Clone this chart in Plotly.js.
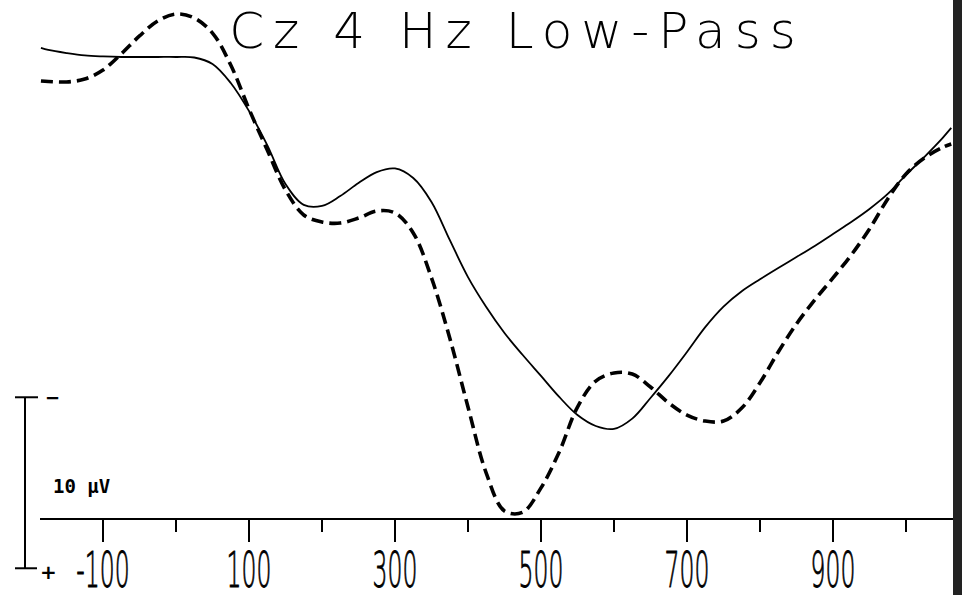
<!DOCTYPE html>
<html>
<head>
<meta charset="utf-8">
<script src="https://cdn.plot.ly/plotly-3.0.1.min.js"></script>
<style>
  html, body { margin: 0; padding: 0; background: #ffffff; }
  #chart { width: 962px; height: 595px; }
  .gtitle { letter-spacing: 9px; }
</style>
</head>
<body>
<div id="chart"></div>
<script>
// ---- data (time in ms, amplitude in µV; negative plotted upward) ----
const timeMs = [-185, -175, -150, -125, -100, -75, -50, -25, 0, 25, 50, 75, 100, 125, 150, 175, 200, 225, 250, 275, 300, 325, 350, 375, 400, 425, 450, 475, 500, 525, 550, 575, 600, 625, 650, 675, 700, 725, 750, 775, 800, 825, 850, 875, 900, 925, 950, 975, 1000, 1025, 1050, 1062];

const solidUV = [-0.53, -0.41, -0.23, -0.09, -0.03, 0, 0, 0, 0, 0.03, 0.41, 1.52, 3.16, 5.15, 7.43, 8.65, 8.71, 8.13, 7.37, 6.73, 6.52, 7.08, 8.48, 10.70, 12.87, 14.62, 16.14, 17.43, 18.65, 19.88, 20.94, 21.58, 21.75, 21.15, 19.94, 18.65, 17.25, 15.80, 14.60, 13.70, 13.00, 12.34, 11.70, 11.05, 10.35, 9.65, 8.89, 8.01, 6.90, 5.85, 4.74, 4.15];

const dashedUV = [1.40, 1.43, 1.46, 1.29, 0.76, -0.18, -1.23, -2.11, -2.51, -2.28, -1.40, 0.47, 3.04, 5.44, 7.78, 9.24, 9.65, 9.71, 9.42, 9.01, 9.12, 10.29, 12.92, 16.43, 20.47, 24.33, 26.55, 26.62, 25.20, 23.10, 20.47, 18.95, 18.48, 18.54, 19.30, 20.23, 20.94, 21.29, 21.29, 20.53, 19.05, 17.25, 15.61, 14.21, 12.92, 11.58, 10.06, 8.30, 6.84, 5.91, 5.29, 5.09];

const majorTickVals = [-100, 100, 300, 500, 700, 900];
const majorTickText = ['-100', '100', '300', '500', '700', '900'];

const titleText = 'Cz 4 Hz Low-Pass';
const calLabel = '10 µV';
const calSizeUV = 10;
const calTopUV = 19.9;

// ---- layout geometry ----
const W = 962, H = 595;
const M = { l: 40, r: 9, t: 5, b: 77 };
const plotW = W - M.l - M.r, plotH = H - M.t - M.b;
const xRange = [-186.3, 1064.4];
const yRange = [26.96, -3.04]; // reversed: negative up
const px2px = px => (px - M.l) / plotW;           // pixel x -> paper x
const py2py = py => (H - M.b - py) / plotH;       // pixel y -> paper y
const uv2py = v => (v - yRange[0]) / (yRange[1] - yRange[0]);

const traces = [
  {
    x: timeMs, y: solidUV, type: 'scatter', mode: 'lines', name: 'solid',
    line: { color: '#000000', width: 1.8, shape: 'spline', smoothing: 1 },
    hoverinfo: 'skip'
  },
  {
    x: timeMs, y: dashedUV, type: 'scatter', mode: 'lines', name: 'dashed',
    line: { color: '#000000', width: 3.6, dash: '12px,6px', shape: 'spline', smoothing: 1 },
    hoverinfo: 'skip'
  }
];

const calX = px2px(25);
const layout = {
  width: W, height: H,
  margin: M,
  paper_bgcolor: '#ffffff', plot_bgcolor: '#ffffff',
  font: { color: '#000000' },
  showlegend: false,
  title: {
    text: titleText,
    x: 517 / W, xanchor: 'center',
    y: 1 - 30 / H, yanchor: 'middle',
    font: { family: 'DejaVu Sans', size: 50, weight: 200, color: '#000000' }
  },
  xaxis: {
    range: xRange, fixedrange: true, color: '#000000',
    showgrid: false, zeroline: false,
    showline: true, linecolor: '#000000', linewidth: 2,
    ticks: 'outside', ticklen: 22, tickwidth: 2, tickcolor: '#000000',
    tickmode: 'array', tickvals: majorTickVals, ticktext: majorTickText,
    ticklabelstandoff: -15,
    tickfont: { family: 'DejaVu Sans', size: 50, weight: 200, color: '#000000' },
    minor: { tickmode: 'linear', tick0: 0, dtick: 200, ticks: 'outside', ticklen: 12, tickwidth: 2, tickcolor: '#000000', showgrid: false }
  },
  yaxis: {
    range: yRange, fixedrange: true, visible: false,
    showgrid: false, zeroline: false
  },
  shapes: [
    // calibration bar (10 µV)
    { type: 'line', xref: 'paper', yref: 'paper', x0: calX, x1: calX,
      y0: uv2py(calTopUV), y1: uv2py(calTopUV + calSizeUV), line: { color: '#000', width: 2 } },
    { type: 'line', xref: 'paper', yref: 'paper', x0: px2px(15), x1: px2px(38),
      y0: uv2py(calTopUV), y1: uv2py(calTopUV), line: { color: '#000', width: 2 } },
    { type: 'line', xref: 'paper', yref: 'paper', x0: px2px(15), x1: px2px(37),
      y0: uv2py(calTopUV + calSizeUV), y1: uv2py(calTopUV + calSizeUV), line: { color: '#000', width: 2 } },
    // scanned dark border on right edge
    { type: 'rect', xref: 'paper', yref: 'paper', x0: px2px(953), x1: px2px(W + 2),
      y0: py2py(H + 2), y1: py2py(-2), fillcolor: '#222222', line: { width: 0 }, layer: 'above' }
  ],
  annotations: [
    { text: '<b>−</b>', xref: 'paper', yref: 'paper', x: px2px(52), y: uv2py(calTopUV),
      showarrow: false, xanchor: 'center', yanchor: 'middle',
      font: { family: 'DejaVu Sans', size: 18, color: '#000' } },
    { text: '<b>+</b>', xref: 'paper', yref: 'paper', x: px2px(48), y: uv2py(calTopUV + calSizeUV) - 0.008,
      showarrow: false, xanchor: 'center', yanchor: 'middle',
      font: { family: 'DejaVu Sans', size: 20, color: '#000' } },
    { text: calLabel, xref: 'paper', yref: 'paper', x: px2px(51), y: py2py(486),
      showarrow: false, xanchor: 'left', yanchor: 'middle',
      font: { family: 'DejaVu Sans Mono', size: 19, weight: 700, color: '#000' } }
  ]
};

function squeezeTicks() {
  document.querySelectorAll('#chart .xtick text').forEach(t => {
    const tr = t.getAttribute('transform') || '';
    if (tr.indexOf('scale') >= 0) return;
    const x0 = parseFloat(t.getAttribute('x') || '0') || 0;
    t.setAttribute('transform', tr + ' translate(' + x0 + ',0) scale(0.47,1) translate(' + (-x0) + ',0)');
    t.style.fill = '#000000';
    t.style.stroke = '#000000';
    t.style.strokeWidth = '0.9px';
  });
}

const gd = document.getElementById('chart');
Plotly.newPlot(gd, traces, layout, { staticPlot: true, displayModeBar: false }).then(() => {
  squeezeTicks();
  gd.on && gd.on('plotly_afterplot', squeezeTicks);
});
</script>
</body>
</html>
